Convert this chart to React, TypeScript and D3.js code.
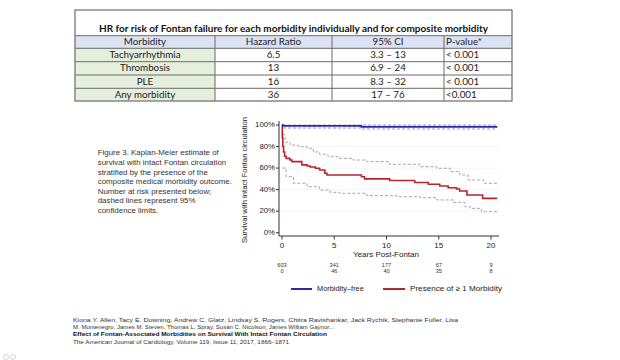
import React from "react";
import * as d3 from "d3";

// ---------- Table data ----------
const tableTitle = "HR for risk of Fontan failure for each morbidity individually and for composite morbidity";
const tableHeaders = ["Morbidity", "Hazard Ratio", "95% CI", "P-value*"];
const morbidities = ["Tachyarrhythmia", "Thrombosis", "PLE", "Any morbidity"];
const hazardRatios = ["6.5", "13", "16", "36"];
const confidence = ["3.3 – 13", "6.9 – 24", "8.3 – 32", "17 – 76"];
const pValues = ["< 0.001", "< 0.001", "< 0.001", "<0.001"];

// ---------- KM data ----------
const freeTimes = [0, 0.1, 7.6, 20.6];
const freeSurv = [100, 99.2, 98.3, 98.3];
const freeLowTimes = [0.1, 7.6, 20.6];
const freeLow = [97.2, 96.3, 96.3];
const freeHighTimes = [0.1, 20.6];
const freeHigh = [99.9, 99.9];

const morbTimes = [0, 0.03, 0.08, 0.15, 0.25, 0.4, 0.75, 0.95, 1.9, 2.4, 2.7, 3.2, 3.6, 4.1, 4.3, 7.6, 7.9, 10.3, 12.7, 14.0, 15.1, 15.9, 16.7, 17.0, 17.7, 19.2, 20.6];
const morbSurv = [100, 88, 80, 75, 71, 69, 67.5, 66, 63, 62, 61, 59.8, 58.2, 55.2, 53.6, 52, 50, 48.5, 46.6, 45, 43.4, 41.8, 40.6, 38.7, 35, 31.9, 31.9];
const morbHighTimes = [0.05, 0.3, 0.77, 1.56, 2.4, 3.0, 3.6, 4.4, 5.5, 6.8, 8.1, 10.3, 13.2, 14.8, 16.1, 17.0, 17.8, 19.3, 20.6];
const morbHigh = [91, 84, 81.4, 79.9, 78.3, 75, 72.8, 70.6, 69, 67.5, 66, 63.5, 61.3, 59.8, 56.7, 53.6, 49, 45.9, 45.9];
const morbLowTimes = [0.05, 0.4, 1.1, 2.4, 3.6, 4.6, 5.5, 8.1, 11.0, 13.2, 14.8, 16.4, 17.5, 18.0, 19.1, 20.6];
const morbLow = [60, 52, 45.9, 42.7, 39.6, 37.5, 36.6, 34.4, 33.4, 32.5, 30.4, 28.2, 24.1, 22.6, 19.5, 19.5];

const xTicks = [0, 5, 10, 15, 20];
const yTicks = [0, 20, 40, 60, 80, 100];
const atRiskFree = ["603", "341", "177", "67", "9"];
const atRiskMorb = ["0", "46", "40", "35", "8"];
const legendLabels = ["Morbidity–free", "Presence of ≥ 1 Morbidity"];

const captionLines = [
  "Figure 3. Kaplan-Meier estimate of",
  "survival with intact Fontan circulation",
  "stratified by the presence of the",
  "composite medical morbidity outcome.",
  "Number at risk presented below;",
  "dashed lines represent 95%",
  "confidence limits.",
];

const footerLines = [
  "Kiona Y. Allen,  Tacy E. Downing,  Andrew C. Glatz,  Lindsay S. Rogers,  Chitra Ravishankar,  Jack Rychik,  Stephanie Fuller,  Lisa",
  "M. Montenegro,  James M. Steven,  Thomas L. Spray,  Susan C. Nicolson,  James William Gaynor...",
  "Effect of Fontan-Associated Morbidities on Survival With Intact Fontan Circulation",
  "The American Journal of Cardiology, Volume 119, Issue 11, 2017, 1866–1871",
];

const BLUE = "#2b2ba6";
const RED = "#b5262c";
const SANS = "'Liberation Sans', Arial, sans-serif";
const TFONT = "Lato, 'Open Sans', sans-serif";

export default function App() {
  const x = d3.scaleLinear().domain([0, 20]).range([282, 491]);
  const y = d3.scaleLinear().domain([0, 100]).range([232.7, 125]);

  const makeLine = (ts: number[], vs: number[]) =>
    d3
      .line<number>()
      .x((_, i) => x(ts[i]))
      .y((v) => y(v))
      .curve(d3.curveStepAfter)(vs) || "";

  // table geometry
  const tLeft = 75, tRight = 512, tTop = 10;
  const rowEdges = [35.7, 48.3, 61.7, 75, 88.3, 101];
  const colEdges = [75, 215, 332, 444, 512];
  const colCenters = [145, 273.5, 388];

  const rows = morbidities.map((m, i) => [m, hazardRatios[i], confidence[i], pValues[i]]);

  return (
    <svg width={620} height={360} style={{ position: "absolute", left: 0, top: 0, background: "#fff" }}>
      <rect x={0} y={0} width={620} height={360} fill="#fff" />
      {/* ---- Table ---- */}
      <rect x={tLeft} y={rowEdges[0]} width={tRight - tLeft} height={rowEdges[1] - rowEdges[0]} fill="#dbe2f4" />
      {rows.map((_, i) => (
        <rect key={"g" + i} x={colEdges[0]} y={rowEdges[i + 1]} width={colEdges[1] - colEdges[0]} height={rowEdges[i + 2] - rowEdges[i + 1]} fill="#e6eedc" />
      ))}
      {rowEdges.slice(0, 5).map((ry, i) => (
        <line key={"h" + i} x1={tLeft} x2={tRight} y1={ry} y2={ry} stroke="#6a6a6a" strokeWidth={1} />
      ))}
      {colEdges.slice(1, 4).map((cx, i) => (
        <line key={"v" + i} x1={cx} x2={cx} y1={rowEdges[0]} y2={rowEdges[5]} stroke="#6a6a6a" strokeWidth={1} />
      ))}
      <rect x={tLeft} y={tTop} width={tRight - tLeft} height={rowEdges[5] - tTop} fill="none" stroke="#777" strokeWidth={1.3} />
      <text x={293.5} y={29.5} textAnchor="middle" dominantBaseline="middle" fontFamily={TFONT} fontWeight="bold" fontSize={10.2} textLength={389} lengthAdjust="spacingAndGlyphs" fill="#111">
        {tableTitle}
      </text>
      {tableHeaders.map((h, j) => (
        <text key={"th" + j} x={j < 3 ? colCenters[j] : 446} y={42.3} textAnchor={j < 3 ? "middle" : "start"} dominantBaseline="middle" fontFamily={TFONT} fontSize={9.8} fill="#222">
          {h}
        </text>
      ))}
      {rows.map((r, i) =>
        r.map((c, j) => (
          <text key={"td" + i + j} x={j < 3 ? colCenters[j] : 446} y={(rowEdges[i + 1] + rowEdges[i + 2]) / 2 + 0.5} textAnchor={j < 3 ? "middle" : "start"} dominantBaseline="middle" fontFamily={TFONT} fontSize={9.8} fill="#222">
            {c}
          </text>
        ))
      )}

      {/* ---- Caption ---- */}
      {captionLines.map((l, i) => (
        <text key={"c" + i} x={97.7} y={153.3 + i * 9.6} dominantBaseline="middle" fontFamily={SANS} fontSize={7.9} fill="#333">
          {l}
        </text>
      ))}

      {/* ---- Chart ---- */}
      {yTicks.slice(1).map((t) => (
        <line key={"gl" + t} x1={281} x2={499} y1={y(t)} y2={y(t)} stroke="#f1f1f1" strokeWidth={0.8} />
      ))}
      <line x1={279} x2={279} y1={121} y2={236} stroke="#333" strokeWidth={1} />
      <line x1={279} x2={499} y1={236} y2={236} stroke="#333" strokeWidth={1} />
      {yTicks.map((t) => (
        <g key={"yt" + t}>
          <line x1={276} x2={279} y1={y(t)} y2={y(t)} stroke="#333" />
          <text x={275} y={y(t)} textAnchor="end" dominantBaseline="middle" fontFamily={SANS} fontSize={7.8} fill="#222">
            {t + "%"}
          </text>
        </g>
      ))}
      {xTicks.map((t, i) => (
        <g key={"xt" + t}>
          <line x1={x(t)} x2={x(t)} y1={236} y2={239.5} stroke="#333" />
          <text x={x(t)} y={245.5} textAnchor="middle" dominantBaseline="middle" fontFamily={SANS} fontSize={8} fill="#222">
            {t}
          </text>
          <text x={x(t)} y={266} textAnchor="middle" dominantBaseline="middle" fontFamily={SANS} fontSize={5.6} fill="#333">
            {atRiskFree[i]}
          </text>
          <text x={x(t)} y={272} textAnchor="middle" dominantBaseline="middle" fontFamily={SANS} fontSize={5.6} fill="#333">
            {atRiskMorb[i]}
          </text>
        </g>
      ))}
      <text x={386} y={255} textAnchor="middle" dominantBaseline="middle" fontFamily={SANS} fontSize={8} fill="#222">
        Years Post-Fontan
      </text>
      <text transform="translate(245,180) rotate(-90)" textAnchor="middle" dominantBaseline="middle" fontFamily={SANS} fontSize={7.8} textLength={126} lengthAdjust="spacingAndGlyphs" fill="#222">
        Survival with intact Fontan circulation
      </text>

      {/* CI lines */}
      <path d={makeLine(morbHighTimes, morbHigh)} fill="none" stroke="#bb9c9e" strokeWidth={1} strokeDasharray="3,2" />
      <path d={makeLine(morbLowTimes, morbLow)} fill="none" stroke="#bb9c9e" strokeWidth={1} strokeDasharray="3,2" />
      <path d={makeLine(freeLowTimes, freeLow)} fill="none" stroke="#8f96c8" strokeWidth={1} strokeDasharray="3,2" />
      <path d={makeLine(freeHighTimes, freeHigh)} fill="none" stroke="#8f96c8" strokeWidth={1} strokeDasharray="3,2" />
      {/* Survival curves */}
      <path d={makeLine(morbTimes, morbSurv)} fill="none" stroke={RED} strokeWidth={1.6} />
      <path d={makeLine(freeTimes, freeSurv)} fill="none" stroke={BLUE} strokeWidth={1.6} />

      {/* Legend */}
      <line x1={291} x2={312} y1={289} y2={289} stroke={BLUE} strokeWidth={2} />
      <text x={317} y={289} dominantBaseline="middle" fontFamily={SANS} fontSize={7.4} fill="#222">
        {legendLabels[0]}
      </text>
      <line x1={383} x2={405} y1={289} y2={289} stroke={RED} strokeWidth={2} />
      <text x={410} y={289} dominantBaseline="middle" fontFamily={SANS} fontSize={7.4} textLength={92} lengthAdjust="spacingAndGlyphs" fill="#222">
        {legendLabels[1]}
      </text>

      {/* Footer */}
      {footerLines.map((l, i) => (
        <text key={"f" + i} x={73} y={320 + i * 7.3} dominantBaseline="middle" fontFamily={SANS} fontSize={6.2} fontWeight={i === 2 ? "bold" : "normal"} fill={i === 2 ? "#111" : "#333"}
          textLength={[385, 261, 254, 216][i]} lengthAdjust="spacingAndGlyphs">
          {l}
        </text>
      ))}
      {/* bottom-left icons */}
      <g fill="none" stroke="#ccc" strokeWidth={0.8}>
        <circle cx={6} cy={357} r={2.5} />
        <circle cx={13} cy={357} r={2.5} />
      </g>
    </svg>
  );
}
